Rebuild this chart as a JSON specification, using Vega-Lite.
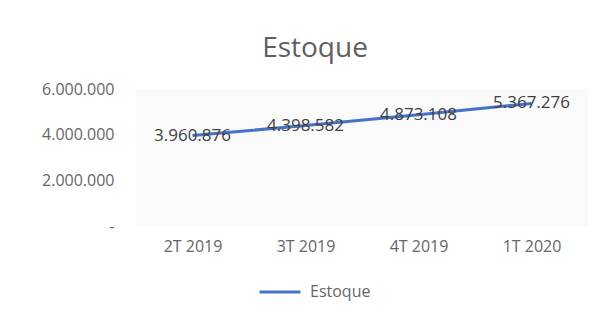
{
  "$schema": "https://vega.github.io/schema/vega-lite/v6.json",
  "autosize": {"type": "none"},
  "padding": {"left": 136, "top": 89, "right": 17, "bottom": 90},
  "width": 452,
  "height": 137,
  "background": "#ffffff",
  "config": {
    "locale": {"number": {"decimal": ",", "thousands": ".", "grouping": [3], "currency": ["R$", ""]}},
    "view": {"stroke": null, "fill": "#fafafa"},
    "font": "Open Sans"
  },
  "title": {
    "text": "Estoque",
    "fontSize": 28,
    "font": "Open Sans",
    "fontWeight": "normal",
    "color": "#5f5f5f",
    "dx": -47,
    "offset": 18
  },
  "data": {
    "values": [
      {"trimestre": "2T 2019", "valor": 3960876, "serie": "Estoque"},
      {"trimestre": "3T 2019", "valor": 4398582, "serie": "Estoque"},
      {"trimestre": "4T 2019", "valor": 4873108, "serie": "Estoque"},
      {"trimestre": "1T 2020", "valor": 5367276, "serie": "Estoque"}
    ]
  },
  "encoding": {
    "x": {
      "field": "trimestre",
      "type": "ordinal",
      "sort": null,
      "scale": {"paddingInner": 0, "paddingOuter": 0.5},
      "axis": {
        "title": null,
        "labelAngle": 0,
        "domain": false,
        "ticks": false,
        "labelFontSize": 16,
        "labelColor": "#666666",
        "labelPadding": 12
      }
    },
    "y": {
      "field": "valor",
      "type": "quantitative",
      "scale": {"domain": [0, 6000000], "nice": false},
      "axis": {
        "title": null,
        "values": [0, 2000000, 4000000, 6000000],
        "format": ",d",
        "labelExpr": "datum.value == 0 ? '-' : datum.label",
        "domain": false,
        "ticks": false,
        "grid": false,
        "labelFontSize": 16,
        "labelColor": "#666666",
        "labelPadding": 22
      }
    }
  },
  "layer": [
    {
      "mark": {"type": "line", "strokeWidth": 3, "color": "#4472C4"},
      "encoding": {
        "color": {
          "field": "serie",
          "type": "nominal",
          "scale": {"range": ["#4472C4"]},
          "legend": {
            "title": null,
            "orient": "none",
            "legendX": 122,
            "legendY": 181,
            "symbolType": "stroke",
            "symbolSize": 1681,
            "symbolStrokeWidth": 3,
            "labelFontSize": 16,
            "labelColor": "#666666",
            "labelOffset": 8
          }
        }
      }
    },
    {
      "mark": {"type": "text", "fontSize": 17, "color": "#404040", "dy": 0},
      "encoding": {
        "text": {"field": "valor", "type": "quantitative", "format": ",d"}
      }
    }
  ]
}
